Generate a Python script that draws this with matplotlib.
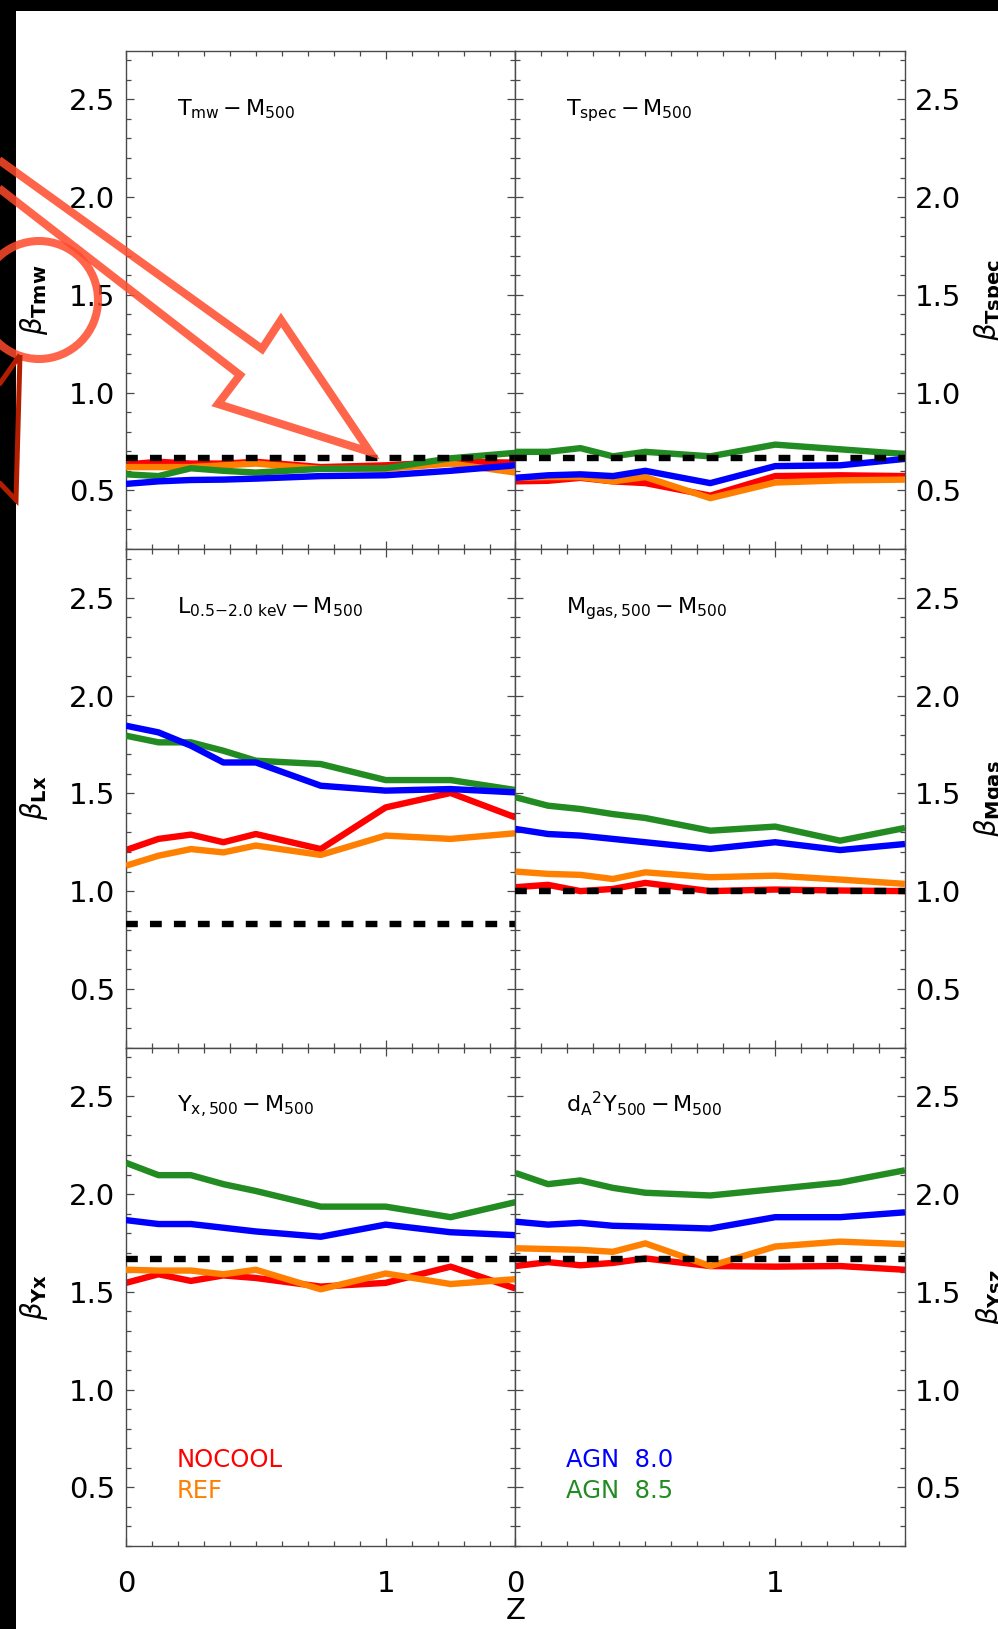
import matplotlib
matplotlib.use('Agg')
import matplotlib.pyplot as plt
from matplotlib.ticker import MultipleLocator, FixedLocator, FixedFormatter
from matplotlib.patches import Polygon, Ellipse, Rectangle

plt.rcParams['font.family'] = ['DejaVu Sans']
plt.rcParams['mathtext.fontset'] = 'dejavusans'

# ---------------- data ----------------
z = [0.0, 0.125, 0.25, 0.375, 0.5, 0.75, 1.0, 1.25, 1.5]

tmw_nocool = [0.632, 0.646, 0.637, 0.637, 0.646, 0.619, 0.628, 0.646, 0.642]
tmw_ref    = [0.619, 0.619, 0.619, 0.628, 0.637, 0.610, 0.610, 0.637, 0.591]
tmw_agn80  = [0.533, 0.546, 0.553, 0.555, 0.560, 0.573, 0.577, 0.600, 0.628]
tmw_agn85  = [0.582, 0.573, 0.613, 0.600, 0.591, 0.610, 0.613, 0.664, 0.692]

tspec_nocool = [0.546, 0.549, 0.564, 0.546, 0.537, 0.473, 0.573, 0.577, 0.573]
tspec_ref    = [0.564, 0.568, 0.568, 0.546, 0.568, 0.460, 0.540, 0.551, 0.555]
tspec_agn80  = [0.564, 0.577, 0.582, 0.573, 0.600, 0.537, 0.624, 0.628, 0.661]
tspec_agn85  = [0.697, 0.697, 0.716, 0.674, 0.697, 0.674, 0.734, 0.710, 0.686]

lx_nocool = [1.210, 1.267, 1.289, 1.250, 1.292, 1.215, 1.428, 1.502, 1.377]
lx_ref    = [1.130, 1.181, 1.215, 1.198, 1.233, 1.185, 1.284, 1.267, 1.296]
lx_agn80  = [1.846, 1.812, 1.744, 1.658, 1.658, 1.539, 1.514, 1.522, 1.505]
lx_agn85  = [1.795, 1.761, 1.761, 1.718, 1.667, 1.650, 1.568, 1.568, 1.517]

mgas_nocool = [1.020, 1.032, 1.000, 1.011, 1.042, 1.000, 1.008, 1.003, 1.000]
mgas_ref    = [1.100, 1.088, 1.083, 1.062, 1.096, 1.071, 1.079, 1.059, 1.037]
mgas_agn80  = [1.318, 1.292, 1.284, 1.267, 1.250, 1.216, 1.250, 1.210, 1.241]
mgas_agn85  = [1.480, 1.437, 1.420, 1.394, 1.374, 1.309, 1.330, 1.258, 1.323]

yx_nocool = [1.546, 1.590, 1.556, 1.584, 1.571, 1.527, 1.546, 1.629, 1.517]
yx_ref    = [1.613, 1.609, 1.609, 1.590, 1.613, 1.513, 1.594, 1.540, 1.565]
yx_agn80  = [1.867, 1.847, 1.847, 1.828, 1.809, 1.782, 1.844, 1.805, 1.790]
yx_agn85  = [2.160, 2.097, 2.097, 2.051, 2.016, 1.936, 1.936, 1.882, 1.959]

ysz_nocool = [1.632, 1.652, 1.636, 1.648, 1.671, 1.632, 1.629, 1.632, 1.613]
ysz_ref    = [1.723, 1.719, 1.715, 1.705, 1.748, 1.632, 1.732, 1.757, 1.744]
ysz_agn80  = [1.859, 1.844, 1.853, 1.838, 1.834, 1.824, 1.882, 1.882, 1.907]
ysz_agn85  = [2.108, 2.051, 2.070, 2.032, 2.007, 1.993, 2.026, 2.059, 2.122]

self_similar = [0.667, 0.667, 0.83, 1.0, 1.667, 1.667]

titles = [r'$\mathrm{T_{mw}\,{-}\,M_{500}}$', r'$\mathrm{T_{spec}\,{-}\,M_{500}}$',
          r'$\mathrm{L_{0.5{-}2.0\ keV}\,{-}\,M_{500}}$', r'$\mathrm{M_{gas,500}\,{-}\,M_{500}}$',
          r'$\mathrm{Y_{x,500}\,{-}\,M_{500}}$', r'$\mathrm{d_{A}{}^{2}Y_{500}\,{-}\,M_{500}}$']
ylabels = [r'$\beta_{\mathbf{Tmw}}$', r'$\beta_{\mathbf{Tspec}}$',
           r'$\beta_{\mathbf{Lx}}$', r'$\beta_{\mathbf{Mgas}}$',
           r'$\beta_{\mathbf{Yx}}$', r'$\beta_{\mathbf{Ysz}}$']
series_names = ['NOCOOL', 'REF', 'AGN  8.0', 'AGN  8.5']
series_colors = ['#FF0000', '#FF8000', '#0000FF', '#228B22']
panel_data = [
    (tmw_nocool, tmw_ref, tmw_agn80, tmw_agn85),
    (tspec_nocool, tspec_ref, tspec_agn80, tspec_agn85),
    (lx_nocool, lx_ref, lx_agn80, lx_agn85),
    (mgas_nocool, mgas_ref, mgas_agn80, mgas_agn85),
    (yx_nocool, yx_ref, yx_agn80, yx_agn85),
    (ysz_nocool, ysz_ref, ysz_agn80, ysz_agn85),
]
xtick_vals = [0, 1]
xtick_labels = ['0', '1']

# ---------------- layout ----------------
W, H = 998, 1629
fig = plt.figure(figsize=(W / 100, H / 100), dpi=100)
fig.patch.set_facecolor('white')

left0 = 126 / W
colw = 389.5 / W
row_tops = [50.5, 549.0, 1047.5]
rowh = 498.5
spine_col = '#4a4a4a'
zorders = [2, 3, 5, 4]  # red, orange, blue, green

for i in range(6):
    r, c = divmod(i, 2)
    ax = fig.add_axes([left0 + c * colw, 1 - (row_tops[r] + rowh) / H, colw, rowh / H])
    ax.set_xlim(0, 1.5)
    ax.set_ylim(0.2, 2.75)
    for k, ys in enumerate(panel_data[i]):
        ax.plot(z, ys, color=series_colors[k], lw=4.6, zorder=zorders[k],
                solid_capstyle='butt')
    ax.plot([z[0], z[-1]], [self_similar[i], self_similar[i]], color='black', lw=4.6,
            dashes=(1.85, 1.9), dash_capstyle='butt', zorder=6)

    ax.text(0.195, 2.42, titles[i], fontsize=16, ha='left', va='baseline', zorder=7)

    ax.xaxis.set_major_locator(FixedLocator(xtick_vals))
    ax.xaxis.set_major_formatter(FixedFormatter(xtick_labels))
    ax.xaxis.set_minor_locator(MultipleLocator(0.1))
    ax.yaxis.set_major_locator(MultipleLocator(0.5))
    ax.yaxis.set_minor_locator(MultipleLocator(0.1))
    ax.yaxis.set_major_formatter(plt.FormatStrFormatter('%.1f'))

    for sp in ax.spines.values():
        sp.set_color(spine_col)
        sp.set_linewidth(1.0)
    ax.tick_params(which='both', direction='in', top=True, right=True, bottom=True,
                   left=True, color=spine_col, width=0.9, labelcolor='black')
    ax.tick_params(which='major', length=6.0)
    ax.tick_params(which='minor', length=3.3)
    ax.tick_params(axis='y', labelsize=21)
    ax.tick_params(axis='x', labelsize=21, pad=17)
    if c == 0:
        ax.tick_params(axis='y', labelleft=True, labelright=False, pad=8)
        ax.text(-0.2362, 0.5, ylabels[i], rotation=90, ha='center', va='center',
                transform=ax.transAxes, fontsize=20)
    else:
        ax.tick_params(axis='y', labelleft=False, labelright=True, pad=7)
        ax.text(1.218, 0.5, ylabels[i], rotation=90, ha='center', va='center',
                transform=ax.transAxes, fontsize=20)
    ax.tick_params(axis='x', labelbottom=(r == 2))

    if r == 2:
        idx = [0, 1] if c == 0 else [2, 3]
        ax.text(0.195, 0.605, series_names[idx[0]], color=series_colors[idx[0]],
                fontsize=17.5, ha='left', va='baseline')
        ax.text(0.195, 0.444, series_names[idx[1]], color=series_colors[idx[1]],
                fontsize=17.5, ha='left', va='baseline')

fig.text(515.5 / W, 1 - 1611 / H, 'Z', fontsize=21, ha='center', va='center')

# ---------------- black frame bands ----------------
fig.add_artist(Rectangle((0, 1 - 11 / H), 1, 11 / H, transform=fig.transFigure,
                         facecolor='black', edgecolor='none', zorder=20))
fig.add_artist(Rectangle((0, 0), 16 / W, 1, transform=fig.transFigure,
                         facecolor='black', edgecolor='none', zorder=20))


# ---------------- hand-drawn annotation overlay ----------------
def fpt(x, y):
    return (x / W, 1 - y / H)


ann_col = '#FF4A2A'
circle = Ellipse(fpt(39, 300), 2 * 59 / W, 2 * 59 / H, transform=fig.transFigure,
                 fill=False, edgecolor=ann_col, lw=5.8, alpha=0.85, zorder=30)
fig.add_artist(circle)
arrow_pts = [(-40, 132), (262, 349), (281, 320), (370, 452), (218, 404), (240, 375), (-40, 158)]
arrow = Polygon([fpt(x, y) for x, y in arrow_pts], closed=True, transform=fig.transFigure,
                fill=False, edgecolor=ann_col, lw=5.8, alpha=0.85, joinstyle='miter', zorder=31)
fig.add_artist(arrow)
dark_pts = [(20, 355), (16, 500), (-30, 452), (-30, 426)]
dark = Polygon([fpt(x, y) for x, y in dark_pts], closed=True, transform=fig.transFigure,
               fill=False, edgecolor='#B41E00', lw=3.6, joinstyle='miter', zorder=32)
fig.add_artist(dark)

fig.savefig('out.png', dpi=100, facecolor='white')
